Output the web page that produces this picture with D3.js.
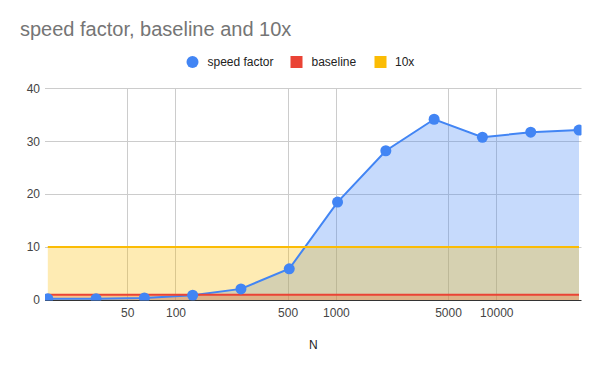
<!DOCTYPE html>
<html><head><meta charset="utf-8">
<script src="https://cdn.jsdelivr.net/npm/d3@7"></script>
<style>
body{margin:0;background:#fff;}
text{font-family:Arial,"Liberation Sans",sans-serif;}
</style></head>
<body><svg id="c" width="600" height="371"></svg>
<script>
const nValues = [16, 32, 64, 128, 256, 512, 1024, 2048, 4096, 8192, 16384, 32768];
const speedFactor = [0.25, 0.25, 0.4, 0.9, 2.1, 5.9, 18.5, 28.2, 34.15, 30.75, 31.7, 32.1];
const baseline = [1, 1, 1, 1, 1, 1, 1, 1, 1, 1, 1, 1];
const tenX = [10, 10, 10, 10, 10, 10, 10, 10, 10, 10, 10, 10];
const xTicks = [50, 100, 500, 1000, 5000, 10000];
const yTicks = [0, 10, 20, 30, 40];
const seriesNames = ["speed factor", "baseline", "10x"];
const colors = ["#4285f4", "#ea4335", "#fbbc04"];

const svg = d3.select("#c");
const x = d3.scaleLog().domain([16, 32768]).range([47.8, 579]);
const y = d3.scaleLinear().domain([0, 40]).range([300, 88.3]);
const pLeft = 45, pRight = 581.5, pTop = 88.3, pBottom = 300;

svg.append("text").attr("x", 20).attr("y", 36).attr("font-size", 20).attr("fill", "#757575")
  .text("speed factor, baseline and 10x");

// legend
const leg = svg.append("g");
leg.append("circle").attr("cx", 192.5).attr("cy", 62).attr("r", 6).attr("fill", colors[0]);
leg.append("text").attr("x", 207.5).attr("y", 66.2).attr("font-size", 12).attr("fill", "#222").text(seriesNames[0]);
leg.append("rect").attr("x", 290.5).attr("y", 56).attr("width", 12).attr("height", 12).attr("fill", colors[1]);
leg.append("text").attr("x", 311.5).attr("y", 66.2).attr("font-size", 12).attr("fill", "#222").text(seriesNames[1]);
leg.append("rect").attr("x", 374.5).attr("y", 56).attr("width", 12).attr("height", 12).attr("fill", colors[2]);
leg.append("text").attr("x", 395).attr("y", 66.2).attr("font-size", 12).attr("fill", "#222").text(seriesNames[2]);

// gridlines
const grid = svg.append("g");
yTicks.filter(d => d > 0).forEach(t => {
  grid.append("line").attr("x1", pLeft).attr("x2", pRight).attr("y1", Math.round(y(t)) + 0.5).attr("y2", Math.round(y(t)) + 0.5)
    .attr("stroke", "#cccccc").attr("stroke-width", 1);
});
xTicks.forEach(t => {
  grid.append("line").attr("x1", Math.round(x(t)) + 0.5).attr("x2", Math.round(x(t)) + 0.5).attr("y1", pTop).attr("y2", pBottom)
    .attr("stroke", "#cccccc").attr("stroke-width", 1);
});

// y labels
const yAxis = d3.axisLeft(y).tickValues(yTicks).tickSize(0).tickPadding(0);
const gy = svg.append("g").attr("transform", "translate(40,0)").call(yAxis);
gy.select(".domain").remove();
gy.selectAll("text").attr("font-size", 12).attr("fill", "#444").style("font-family", "Arial, 'Liberation Sans', sans-serif");

// x labels
const gx = svg.append("g").attr("transform", "translate(0,300)")
  .call(d3.axisBottom(x).tickValues(xTicks).tickFormat(d3.format("d")).tickSize(0).tickPadding(8));
gx.select(".domain").remove();
gx.selectAll("text").attr("font-size", 12).attr("fill", "#444").style("font-family", "Arial, 'Liberation Sans', sans-serif");

svg.append("text").attr("x", (pLeft + pRight) / 2).attr("y", 349).attr("text-anchor", "middle")
  .attr("font-size", 12).attr("fill", "#222").text("N");

// clip
svg.append("clipPath").attr("id", "clip").append("rect")
  .attr("x", pLeft).attr("y", pTop - 10).attr("width", pRight - pLeft).attr("height", pBottom - pTop + 10);

const plot = svg.append("g").attr("clip-path", "url(#clip)");
const seriesData = [speedFactor, baseline, tenX];
seriesData.forEach((vals, i) => {
  const area = d3.area().x((d, j) => x(nValues[j])).y0(y(0)).y1(d => y(d));
  plot.append("path").datum(vals).attr("d", area).attr("fill", colors[i]).attr("fill-opacity", 0.3);
});
seriesData.forEach((vals, i) => {
  const line = d3.line().x((d, j) => x(nValues[j])).y(d => y(d));
  plot.append("path").datum(vals).attr("d", line).attr("fill", "none").attr("stroke", colors[i]).attr("stroke-width", 2);
});

// axis baseline
svg.append("line").attr("x1", pLeft).attr("x2", pRight).attr("y1", 300.5).attr("y2", 300.5)
  .attr("stroke", "#333").attr("stroke-width", 1);

svg.append("clipPath").attr("id", "clip2").append("rect")
  .attr("x", pLeft).attr("y", pTop - 10).attr("width", pRight - pLeft).attr("height", pBottom - pTop + 10.5);
svg.append("g").attr("clip-path", "url(#clip2)").selectAll("circle").data(speedFactor).join("circle")
  .attr("cx", (d, j) => x(nValues[j])).attr("cy", d => y(d)).attr("r", 5.5).attr("fill", colors[0]);
</script></body></html>
